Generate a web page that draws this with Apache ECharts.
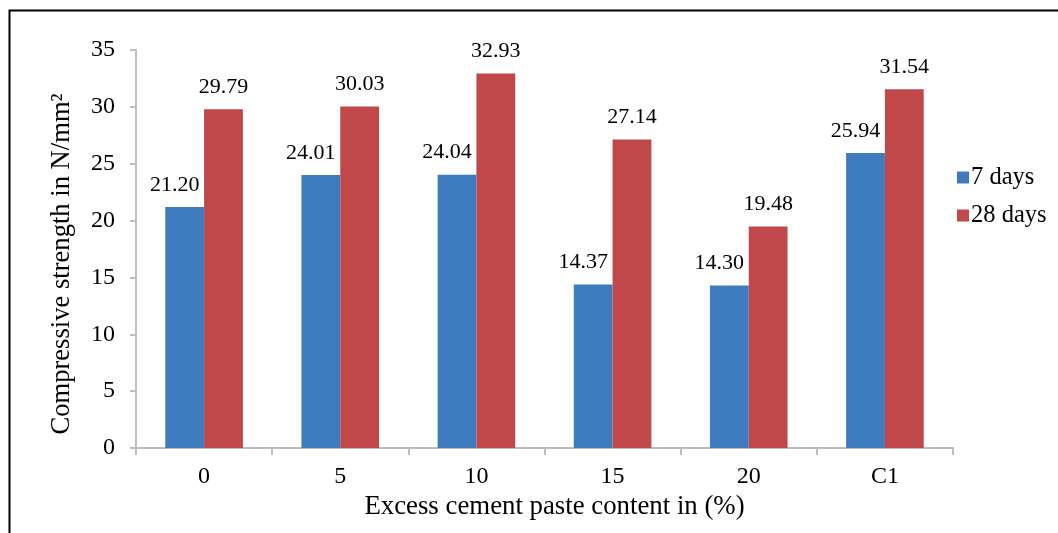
<!DOCTYPE html>
<html>
<head>
<meta charset="utf-8">
<script src="https://cdn.jsdelivr.net/npm/echarts@6/dist/echarts.min.js"></script>
<style>html,body{margin:0;padding:0;background:#fff}#c{width:1058px;height:533px}</style>
</head>
<body>
<div id="c"></div>
<script>
const categories = ['0', '5', '10', '15', '20', 'C1'];
const days7 = [21.20, 24.01, 24.04, 14.37, 14.30, 25.94];
const days28 = [29.79, 30.03, 32.93, 27.14, 19.48, 31.54];
const seriesNames = ['7 days', '28 days'];
const yTicks = { min: 0, max: 35, interval: 5 };

const font = 'Liberation Serif';
const chart = echarts.init(document.getElementById('c'));
chart.setOption({
  animation: false,
  backgroundColor: '#fff',
  textStyle: { fontFamily: font, color: '#000' },
  graphic: [{
    type: 'rect', left: 7, top: 8, silent: true,
    shape: { x: 0, y: 0, width: 1100, height: 600 },
    style: { fill: 'none', stroke: '#000', lineWidth: 2 }
  }],
  grid: { left: 136, right: 105, top: 50, bottom: 85 },
  legend: {
    orient: 'vertical', left: 952, top: 160,
    itemWidth: 12, itemHeight: 12, itemGap: 13,
    icon: 'rect',
    textStyle: { fontFamily: font, fontSize: 24.5, color: '#000', padding: [0, 0, 0, -3] },
    data: seriesNames
  },
  xAxis: {
    type: 'category', data: categories,
    name: 'Excess cement paste content in (%)',
    nameLocation: 'middle', nameGap: 44,
    nameTextStyle: { fontFamily: font, fontSize: 26.8, color: '#000', padding: [0, 0, 0, 20] },
    axisLine: { lineStyle: { color: '#BFBFBF', width: 2 } },
    axisTick: { show: true, length: 7, lineStyle: { color: '#BFBFBF', width: 2 } },
    axisLabel: { fontFamily: font, fontSize: 24, color: '#000', margin: 17 }
  },
  yAxis: {
    type: 'value', min: yTicks.min, max: yTicks.max, interval: yTicks.interval,
    name: 'Compressive strength in N/mm\u00B2',
    nameLocation: 'middle', nameGap: 60, nameRotate: 90,
    nameTextStyle: { fontFamily: font, fontSize: 26.6, color: '#000', padding: [0, 30, 0, 0] },
    axisLine: { show: true, lineStyle: { color: '#BFBFBF', width: 2 } },
    axisTick: { show: true, length: 6, lineStyle: { color: '#BFBFBF', width: 2 } },
    splitLine: { show: false },
    axisLabel: { fontFamily: font, fontSize: 24, color: '#000', margin: 21 }
  },
  series: [
    {
      name: seriesNames[0], type: 'bar', data: days7,
      barGap: '0%', barCategoryGap: '43%',
      itemStyle: { color: '#3F7CBF' },
      label: { show: true, position: 'top', distance: 11, offset: [-10, 0],
        fontFamily: font, fontSize: 22, color: '#000',
        formatter: p => p.value.toFixed(2) }
    },
    {
      name: seriesNames[1], type: 'bar', data: days28,
      barGap: '0%', barCategoryGap: '43%',
      itemStyle: { color: '#C0474A' },
      label: { show: true, position: 'top', distance: 11,
        fontFamily: font, fontSize: 22, color: '#000',
        formatter: p => p.value.toFixed(2) }
    }
  ]
});
</script>
</body>
</html>
